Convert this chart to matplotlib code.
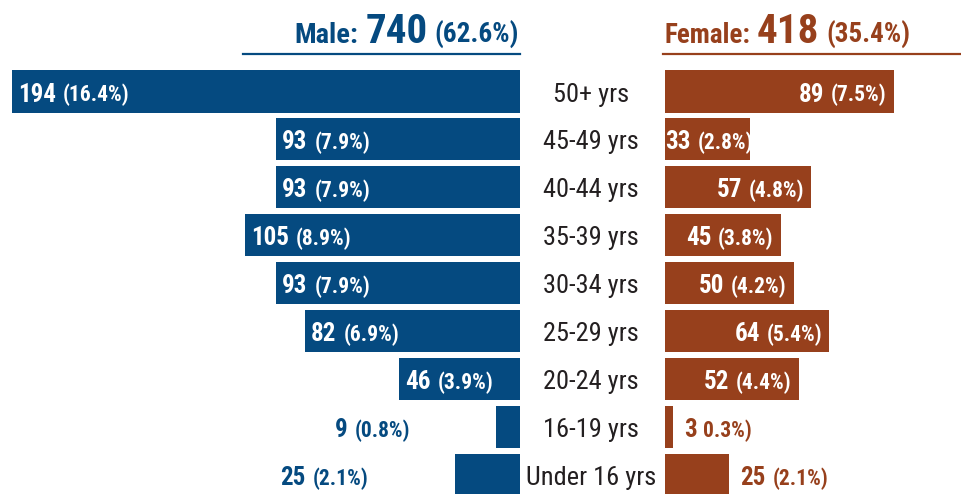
import matplotlib
matplotlib.use("Agg")
import matplotlib.pyplot as plt
import matplotlib.font_manager as fm
from matplotlib.transforms import IdentityTransform
from matplotlib.lines import Line2D

# data
age_groups = ["50+ yrs", "45-49 yrs", "40-44 yrs", "35-39 yrs", "30-34 yrs",
              "25-29 yrs", "20-24 yrs", "16-19 yrs", "Under 16 yrs"]
male_counts = [194, 93, 93, 105, 93, 82, 46, 9, 25]
male_pcts = ["(16.4%)", "(7.9%)", "(7.9%)", "(8.9%)", "(7.9%)", "(6.9%)", "(3.9%)", "(0.8%)", "(2.1%)"]
female_counts = [89, 33, 57, 45, 50, 64, 52, 3, 25]
female_pcts = ["(7.5%)", "(2.8%)", "(4.8%)", "(3.8%)", "(4.2%)", "(5.4%)", "(4.4%)", "0.3%)", "(2.1%)"]
male_total = ("Male:", "740", "(62.6%)")
female_total = ("Female:", "418", "(35.4%)")

MALE = "#054a80"
FEMALE = "#97401c"
DARK = "#231f20"

names = {f.name for f in fm.fontManager.ttflist}
FONT = "DejaVu Sans"
shrink = 0.75
for cand in ["Liberation Sans Narrow", "Roboto Condensed", "Open Sans Condensed", "Noto Sans Condensed"]:
    if cand in names:
        FONT = cand
        shrink = 1.0
        break
else:
    for cand in ["Liberation Sans", "Noto Sans"]:
        if cand in names:
            FONT = cand
            shrink = 0.8
            break

W, H = 961, 494
fig = plt.figure(figsize=(W / 100, H / 100), dpi=100)
renderer = fig.canvas.get_renderer()

row_top = 91.5   # px from top, centre of first row
row_step = 47.9
y_lo = (H - row_top) / row_step
y_hi = -row_top / row_step

ax_m = fig.add_axes([0, 0, 520 / W, 1])
ax_m.set_xlim(520 / 2.62, 0)
ax_m.set_ylim(y_lo, y_hi)
ax_m.axis("off")

ax_f = fig.add_axes([665 / W, 0, (W - 665) / W, 1])
ax_f.set_xlim(0, (W - 665) / 2.57)
ax_f.set_ylim(y_lo, y_hi)
ax_f.axis("off")

rows = list(range(len(age_groups)))
ax_m.barh(rows, male_counts, height=0.877, color=MALE)
ax_f.barh(rows, female_counts, height=0.877, color=FEMALE)


def draw_pieces(x, y, pieces, color, align, gap=7):
    """Draw a run of text pieces from x in display px, left or right aligned."""
    seq = pieces if align == "left" else pieces[::-1]
    cur = x
    for s, size, weight in seq:
        t = fig.text(cur, y, s, transform=IdentityTransform(), ha=align,
                     va="baseline", fontsize=size * shrink, fontweight=weight,
                     color=color, family=FONT)
        w = t.get_window_extent(renderer).width
        cur = cur + w + gap if align == "left" else cur - w - gap
    return cur


def run_width(pieces, gap=7):
    total = 0
    for s, size, weight in pieces:
        t = fig.text(0, 0, s, transform=IdentityTransform(), fontsize=size * shrink,
                     fontweight=weight, family=FONT)
        total += t.get_window_extent(renderer).width
        t.remove()
    return total + gap * (len(pieces) - 1)


NUM_SIZE = 18
PCT_SIZE = 15.5

for i in rows:
    # male side
    x_end, y_c = ax_m.transData.transform((male_counts[i], i))
    base = y_c - 10
    pieces = [(str(male_counts[i]), NUM_SIZE, "bold"), (male_pcts[i], PCT_SIZE, "bold")]
    if male_counts[i] >= 30:
        draw_pieces(x_end + 6, base, pieces, "white", "left")
    else:
        draw_pieces(x_end - 86, base, pieces, MALE, "right")

    # female side
    x0 = ax_f.transData.transform((0, i))[0]
    x_end = ax_f.transData.transform((female_counts[i], i))[0]
    pieces = [(str(female_counts[i]), NUM_SIZE, "bold"), (female_pcts[i], PCT_SIZE, "bold")]
    if female_counts[i] >= 30:
        right = max(x_end - 7, x0 + run_width(pieces))
        draw_pieces(right, base, pieces, "white", "right")
    else:
        draw_pieces(x_end + 11, base, pieces, FEMALE, "left")

    # age group label
    fig.text(591, base, age_groups[i], transform=IdentityTransform(), ha="center",
             va="baseline", fontsize=19 * shrink, color=DARK, family=FONT)

# headers
head_base = H - 43
draw_pieces(519, head_base, [(male_total[0], 20.5, "bold"), (male_total[1], 29.5, "bold"),
                             (male_total[2], 19.5, "bold")], MALE, "right", gap=7)
draw_pieces(664, head_base, [(female_total[0], 19.5, "bold"), (female_total[1], 29.5, "bold"),
                             (female_total[2], 19.5, "bold")], FEMALE, "left", gap=7)

fig.add_artist(Line2D([243 / W, 520 / W], [1 - 54 / H, 1 - 54 / H], color=MALE, lw=1.6))
fig.add_artist(Line2D([663 / W, 1], [1 - 54 / H, 1 - 54 / H], color=FEMALE, lw=1.6))

fig.savefig("out.png", dpi=100)
